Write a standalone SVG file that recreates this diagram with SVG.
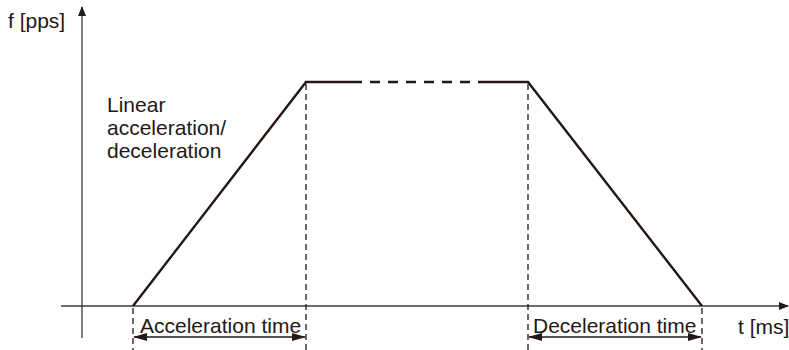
<svg xmlns="http://www.w3.org/2000/svg" width="789" height="350" viewBox="0 0 789 350">
<style>
text{font-family:"Liberation Sans",Arial,sans-serif;fill:#231815;font-size:21px}
.ax{stroke:#3e3a39;stroke-width:1.3;fill:none}
.tr{stroke:#231815;stroke-width:2.4;fill:none}
.dsh{stroke:#231815;stroke-width:1.3;fill:none;stroke-dasharray:6,4}
.dim{stroke:#231815;stroke-width:1.3;fill:none}
</style>
<defs>
<marker id="ah" markerWidth="10" markerHeight="8" refX="9" refY="4" orient="auto-start-reverse" markerUnits="userSpaceOnUse">
<path d="M0,0 L10,4 L0,8 Z" fill="#231815"/>
</marker>
<marker id="dh" markerWidth="14" markerHeight="8" refX="13" refY="4" orient="auto-start-reverse" markerUnits="userSpaceOnUse">
<path d="M0,0 L14,4 L0,8 Z" fill="#231815"/>
</marker>
</defs>
<g id="connectors">
<line class="ax" x1="82" y1="338" x2="82" y2="7" marker-end="url(#ah)"/>
<line class="ax" x1="61" y1="306" x2="788" y2="306" marker-end="url(#ah)"/>
<path class="tr" d="M133,306 L306,82 L352,82"/>
<path class="tr" d="M482,82 L528,82 L702,306"/>
<line class="tr" x1="352" y1="82" x2="482" y2="82" stroke-dasharray="10,8"/>
<line class="dsh" x1="306" y1="84" x2="306" y2="350"/>
<line class="dsh" x1="528" y1="84" x2="528" y2="350"/>
<line class="dsh" x1="133" y1="308" x2="133" y2="350"/>
<line class="dsh" x1="702" y1="308" x2="702" y2="350"/>
<line class="dim" x1="134" y1="337" x2="305" y2="337" marker-start="url(#dh)" marker-end="url(#dh)"/>
<line class="dim" x1="529" y1="337" x2="701" y2="337" marker-start="url(#dh)" marker-end="url(#dh)"/>
</g>
<g id="labels">
<text x="8" y="28">f [pps]</text>
<text x="107" y="112">Linear</text>
<text x="107" y="135">acceleration/</text>
<text x="107" y="158">deceleration</text>
<text x="140" y="333">Acceleration time</text>
<text x="533" y="333">Deceleration time</text>
<text x="738" y="334">t [ms]</text>
</g>
</svg>
